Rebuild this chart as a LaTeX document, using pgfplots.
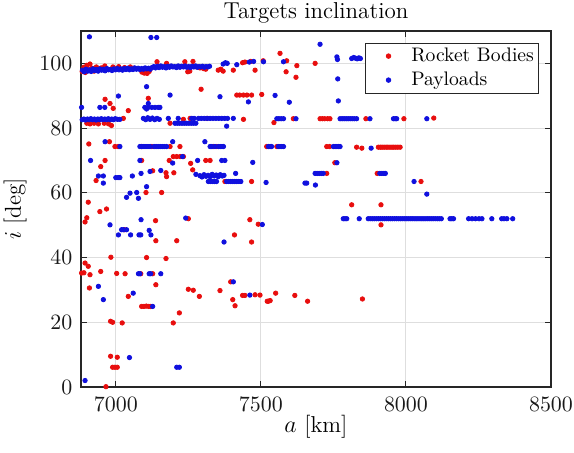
\documentclass[border=0pt]{standalone}
\usepackage{pgfplots}
\pgfplotsset{compat=1.18}
\definecolor{rbred}{RGB}{232,14,14}
\definecolor{plblue}{RGB}{16,16,222}
\pgfplotsset{dotleg/.style={legend image code/.code={\path[draw=none,fill=none] (0pt,-2pt) rectangle (20.6pt,2pt); \draw[##1] plot coordinates {(10.2pt,0pt)};}}}
\pgfplotstableread{
x y
6884 97.5
6890 98.8
6895 97.2
6900 99.4
6905 98.0
6911 99.8
6918 98.5
6925 97.6
6933 98.9
6940 98.0
6950 98.6
6962 99.2
6975 98.1
6990 98.9
7000 98.3
7010 99.0
7030 98.7
7050 98.9
7062 98.5
7090 97.3
7098 97.0
7108 96.9
7115 97.5
7142 100.5
7175 100.0
7238 100.5
7248 97.4
7255 97.6
7266 100.6
7278 98.9
7290 98.6
7302 98.4
7310 98.2
7353 97.9
7362 98.2
7370 97.6
7405 97.9
7437 100.2
7445 100.4
7465 100.6
7480 97.9
7508 100.8
7566 103.1
7589 100.8
7624 99.3
7687 100.0
7587 97.4
7621 95.7
7503 90.4
6963 88.9
6980 87.6
6991 86.1
7043 85.4
7112 89.2
7294 92.0
7417 90.2
7427 90.2
7440 90.2
7452 90.2
7468 90.2
6900 81.5
6911 81.3
6925 81.5
6940 81.3
6960 81.5
6975 81.3
6985 80.8
7026 83.0
7187 81.5
7233 82.7
7256 83.0
7314 83.0
7440 82.7
7545 81.7
7612 82.9
7704 82.9
7712 82.9
7720 82.9
7730 82.9
7738 82.9
7862 82.9
7993 82.9
8096 83.1
6907 75.1
6978 75.8
6997 74.3
7008 74.3
7089 74.3
7124 74.3
7187 74.3
7221 74.3
7336 74.3
7348 74.3
7520 74.3
7555 74.3
7727 74.3
7737 74.3
7830 74.1
7848 73.8
7905 74.1
7912 74.1
7918 74.1
7925 74.1
7932 74.1
7938 74.1
7945 74.1
7952 74.1
7958 74.1
7965 74.1
7972 74.1
7980 74.1
7198 71.2
7210 71.2
7222 71.2
7233 71.2
6963 70.0
6948 68.1
6932 63.8
7089 70.0
7184 70.0
7258 69.1
7310 70.0
7325 70.0
7755 69.3
7173 66.2
7175 65.0
7200 66.2
7127 66.8
7265 67.1
7376 63.5
7468 63.5
7727 66.0
7901 66.0
8052 63.5
7104 60.1
7158 60.1
6905 57.1
6945 54.2
6968 55.0
6900 52.3
6894 51.0
7137 51.4
7250 52.0
7462 51.7
7491 50.3
7813 56.3
7914 56.3
7914 50.1
7030 48.6
7138 45.2
7210 45.2
7409 47.0
7468 44.8
6983 40.1
7106 40.0
7173 39.7
6894 38.3
6905 37.3
6882 35.2
6890 35.3
6911 34.7
6948 35.7
7003 35.1
7032 35.0
7086 35.0
7127 35.0
7138 31.6
6909 30.6
7043 28.0
7089 24.9
7097 24.9
7105 25.0
7113 24.9
7120 24.9
7250 30.2
7267 29.9
7288 28.0
7359 29.8
7396 32.5
7403 27.0
7411 25.1
7437 28.3
7445 28.3
7480 28.5
7497 28.4
7526 26.5
7522 26.5
7532 26.7
7551 29.0
7617 28.3
7661 26.5
7850 27.2
6982 20.3
6989 20.0
7022 19.8
7198 19.8
7219 22.9
6982 9.5
7005 9.2
6989 6.1
6997 6.1
7005 6.1
6966 0.1
}\rocket
\pgfplotstableread{
x y
6909 108.2
7121 108.0
7141 108.0
6885 97.9
6891 97.4
6897 98.2
6903 97.6
6909 98.0
6915 97.5
6921 98.3
6927 97.8
6933 98.1
6939 97.6
6945 98.3
6951 97.9
6957 98.2
6963 97.7
6969 98.4
6975 98.0
6981 98.1
6987 97.8
6993 98.3
6999 98.0
7005 98.4
7011 98.0
7017 98.3
7023 97.9
7029 98.4
7035 98.1
7041 98.5
7047 98.0
7053 98.3
7059 98.1
7065 98.6
7071 98.2
7077 98.5
7083 98.1
7089 98.4
7095 98.2
7101 98.6
7107 98.3
7113 98.5
7119 98.2
7125 98.7
7131 99.0
7137 98.6
7143 99.1
7149 98.7
7155 99.2
7161 98.8
7167 99.0
7173 98.6
7179 99.1
7185 98.8
7191 99.2
7197 98.9
7203 99.0
7209 98.7
7215 99.2
7221 98.8
7227 99.1
7233 98.9
7239 99.2
7245 98.8
7251 99.0
7257 98.7
7263 99.1
7269 98.9
7275 99.2
7281 98.8
7287 99.0
7293 98.9
7299 99.1
7305 98.8
7311 99.0
7317 98.9
7323 99.1
7370 99.8
7378 100.2
7384 100.0
7417 99.6
7460 100.4
7475 100.6
7509 100.5
7578 100.5
7704 105.9
7762 102.0
7764 101.2
7813 101.5
7820 101.8
7826 101.6
7832 101.4
7838 101.7
7843 101.5
7765 95.2
7106 92.8
7009 89.9
7187 90.2
7359 89.7
7457 88.1
7549 90.1
7598 88.0
7767 88.4
7112 87.6
7106 85.9
6882 86.4
6945 86.4
6962 86.4
7100 86.4
7112 86.4
7124 86.4
7135 86.4
7146 86.4
7152 86.4
6884 82.6
6890 82.8
6896 82.5
6902 82.8
6908 82.6
6914 82.9
6920 82.6
6926 82.8
6932 82.5
6938 82.8
6944 82.6
6950 82.9
6956 82.6
6962 82.8
6968 82.6
6974 82.9
6980 82.6
6986 82.8
6992 82.6
6998 82.9
7006 82.7
7014 82.7
7095 83.0
7103 82.6
7110 83.2
7118 82.7
7126 83.1
7134 82.6
7142 83.0
7150 82.7
7181 83.0
7215 83.0
7204 81.5
7212 81.5
7220 81.5
7228 81.5
7236 81.5
7244 81.5
7252 81.5
7260 81.5
7268 81.5
7276 81.5
7262 83.0
7270 83.0
7285 83.0
7295 83.0
7305 83.0
7315 83.0
7325 83.0
7335 83.0
7345 83.0
7355 83.0
7365 83.0
7375 83.0
7385 83.0
7382 80.6
7405 83.0
7555 82.9
7562 82.9
7570 82.9
7578 82.9
7621 82.9
7773 82.9
7780 82.9
7787 82.9
7794 82.9
7801 82.9
7808 82.9
7815 82.9
7822 82.9
7830 82.9
7876 82.9
7957 82.9
7963 82.9
7968 82.9
8072 82.9
6963 75.8
7014 74.3
7083 74.3
7090 74.3
7097 74.3
7104 74.3
7111 74.3
7118 74.3
7132 74.3
7139 74.3
7146 74.3
7153 74.3
7160 74.3
7167 74.3
7175 74.3
7196 75.8
7307 75.8
7325 74.3
7331 74.3
7342 74.3
7354 74.3
7360 74.3
7366 74.3
7371 74.3
7526 74.3
7532 74.3
7537 74.3
7560 74.3
7566 74.3
7572 74.3
7578 74.3
7750 74.3
7756 74.3
7762 74.3
7768 74.3
7773 74.3
7880 73.8
7230 71.2
6913 70.0
7083 70.0
7196 69.2
7282 70.0
7365 70.0
7376 70.0
7472 69.4
7762 69.3
6940 65.2
6957 65.2
6957 63.0
7000 64.7
7008 64.7
7014 64.7
7057 65.2
7087 66.0
7118 66.6
7155 66.9
7276 65.7
7290 65.3
7297 64.9
7304 65.6
7311 65.1
7318 65.4
7325 65.0
7332 65.7
7339 65.2
7346 65.5
7353 65.0
7360 65.6
7367 65.2
7373 65.4
7319 63.5
7326 63.5
7333 63.5
7340 63.5
7347 63.5
7382 63.5
7389 63.5
7396 63.5
7403 63.5
7410 63.5
7417 63.5
7424 63.5
7431 63.5
7413 66.0
7106 61.9
7072 60.1
7078 58.3
7049 59.9
7037 58.6
7687 66.0
7694 66.0
7701 66.0
7708 66.0
7715 66.0
7910 66.0
7917 66.0
7924 66.0
7929 66.0
7518 63.2
7652 63.0
7658 63.0
7688 62.4
8028 63.5
8072 59.6
6980 50.1
7087 51.7
7241 52.2
7505 50.2
7020 48.6
7026 48.6
7037 48.6
7009 47.0
7051 47.0
7080 47.0
7086 47.0
7115 48.4
7121 47.0
7373 44.8
7784 52.0
7790 52.0
7796 52.0
7839 52.0
7870 52.0
7877 52.0
7884 52.0
7891 52.0
7898 52.0
7905 52.0
7912 52.0
7919 52.0
7926 52.0
7933 52.0
7940 52.0
7947 52.0
7954 52.0
7961 52.0
7968 52.0
7975 52.0
7982 52.0
7989 52.0
7996 52.0
8003 52.0
8010 52.0
8017 52.0
8024 52.0
8031 52.0
8038 52.0
8045 52.0
8052 52.0
8059 52.0
8066 52.0
8073 52.0
8080 52.0
8087 52.0
8094 52.0
8101 52.0
8108 52.0
8115 52.0
8122 52.0
8152 52.0
8158 52.0
8164 52.0
8216 52.0
8228 52.0
8240 52.0
8252 52.0
8262 52.0
8296 52.0
8330 52.0
8338 52.0
8348 52.0
8368 52.0
6957 27.0
6940 31.1
7060 29.0
7078 35.0
7083 35.0
7115 35.0
7120 35.0
7155 35.0
7127 24.9
7405 32.5
7462 28.4
7047 9.1
7210 6.1
7219 6.1
6894 2.0
}\payload
\begin{document}
\begin{tikzpicture}
\begin{axis}[
  at={(0pt,0pt)}, anchor=south west,
  scale only axis, width=235pt, height=178pt,
  xmin=6880, xmax=8500, ymin=0, ymax=110,
  xtick={7000,7500,8000,8500}, ytick={0,20,40,60,80,100},
  /pgf/number format/1000 sep={},
  grid=major,
  major grid style={line width=0.5pt, draw=black!13},
  axis line style={line width=0.6pt, draw=black!85},
  every tick/.style={line width=0.5pt, black!85},
  major tick length=3pt,
  tick label style={font=\fontsize{10.8}{12}\selectfont, black!90},
  xticklabel style={yshift=-1.8pt, inner xsep=0pt},
  yticklabel style={xshift=-0.8pt, inner ysep=0pt},
  every axis title shift=0pt,
  title={Targets inclination},
  title style={at={(axis description cs:0.5,1.0357)}, anchor=base, inner sep=0pt, font=\fontsize{11.5}{14}\selectfont},
  xlabel={$a$ [km]},
  ylabel={$i$ [deg]},
  xlabel style={at={(axis description cs:0.5,-0.1124)}, anchor=center, inner sep=0pt, font=\fontsize{11.5}{14}\selectfont},
  ylabel style={at={(axis description cs:-0.1404,0.5)}, anchor=center, inner sep=0pt, font=\fontsize{11.5}{14}\selectfont},
  legend style={at={(1,1)}, anchor=north east, xshift=-5.8pt, yshift=-5.8pt,
    draw=black!85, line width=0.5pt, font=\fontsize{9.8}{12}\selectfont,
    inner xsep=1.5pt, inner ysep=1pt, row sep=1pt,
    nodes={inner sep=1pt, text height=7pt, text depth=2pt}},
  legend cell align=left,
]
\addplot[only marks, mark=*, color=rbred, mark size=1.1pt, dotleg]
  table[x=x,y=y] {\rocket};
\addlegendentry{Rocket Bodies}
\addplot[only marks, mark=*, color=plblue, mark size=1.1pt, dotleg]
  table[x=x,y=y] {\payload};
\addlegendentry{Payloads}
\end{axis}
\path (-40.5pt,-32.5pt) rectangle (246.5pt,193.5pt);
\end{tikzpicture}
\end{document}
